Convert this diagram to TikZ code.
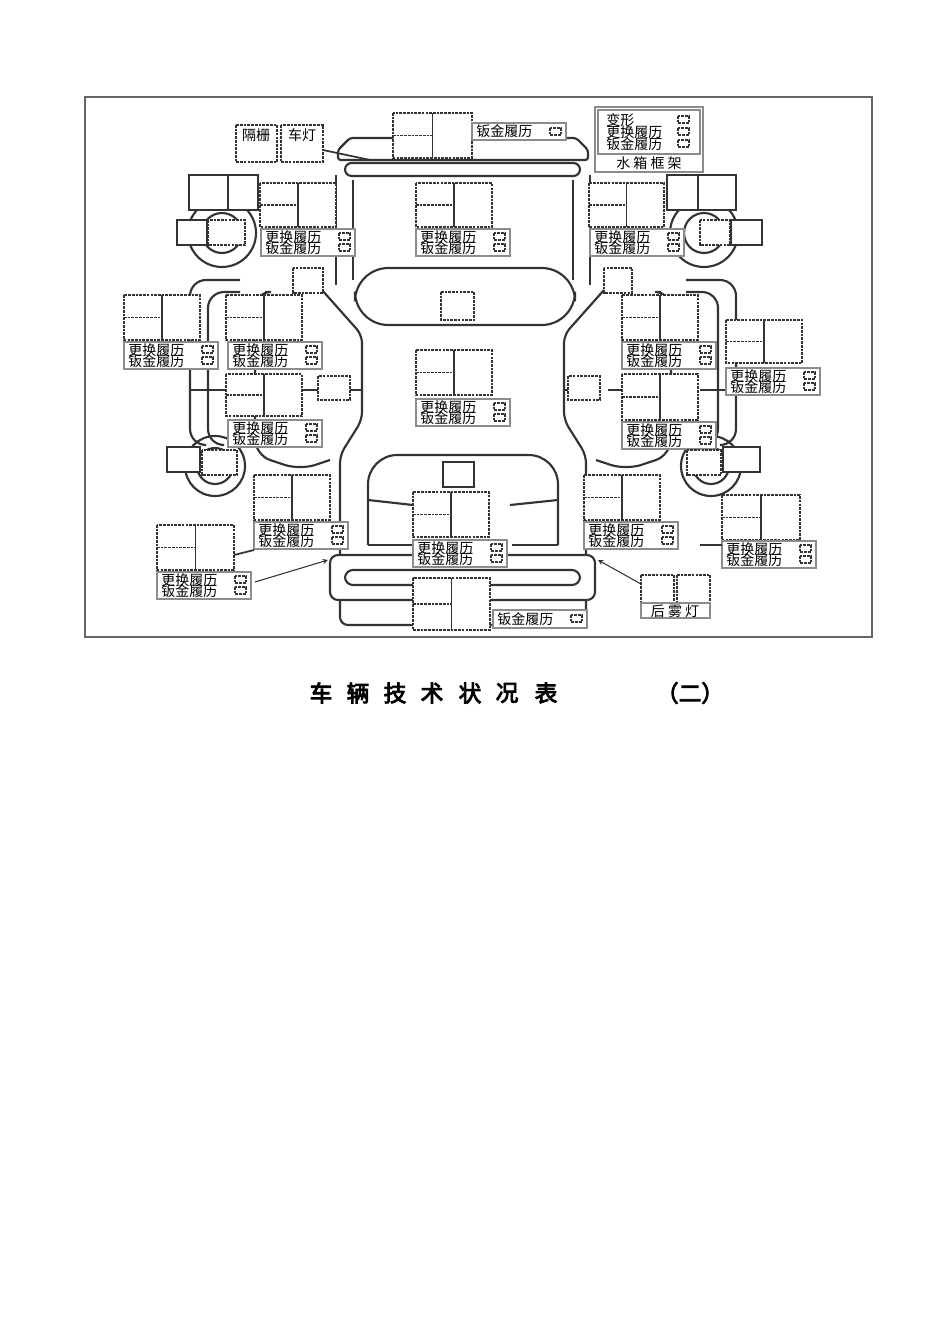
\documentclass[tikz,border=0pt]{standalone}
\usepackage{fontspec}
\newfontfamily\cjk{Noto Sans CJK SC}
\newfontfamily\cjkb[FakeBold=4]{Noto Sans CJK SC}
\tikzset{
 dbox/.style={line width=1.3pt,dash pattern=on 2pt off 0.8pt,black!80,fill=white},
 sol/.style={line width=1.3pt,black!80},
 dl/.style={line width=1.1pt,dash pattern=on 2pt off 0.8pt,black!80},
 lab/.style={line width=1.8pt,black!45,fill=white},
 txt/.style={font=\cjk\fontsize{10.5}{10.5}\selectfont,inner sep=0pt,anchor=west},
 car/.style={line width=1.6pt,black!80,rounded corners=6pt},
}
\newcommand\gbox[4]{%
 \draw[dbox] (#1,#2) rectangle (#3,#4);
 \draw[sol] ({(#1+#3)/2},#2)--({(#1+#3)/2},#4);
 \draw[dl] (#1,{(#2+#4)/2})--({(#1+#3)/2},{(#2+#4)/2});}
\newcommand\lbox[2]{%
 \draw[lab] (#1,#2) rectangle ++(94,27);
 \node[txt] at ({#1+4},{#2+8}) {更换履历};
 \node[txt] at ({#1+4},{#2+19.5}) {钣金履历};
 \draw[dl,line width=0.9pt] ({#1+78},{#2+4}) rectangle ++(11,7);
 \draw[dl,line width=0.9pt] ({#1+78},{#2+15}) rectangle ++(11,7);}
\newcommand\dsq[4]{\draw[dbox] (#1,#2) rectangle (#3,#4);}
\begin{document}
\begin{tikzpicture}[x=0.75pt,y=-0.75pt]
\useasboundingbox (0,0) rectangle (950,1344);
\draw[black!60,line width=0.8pt] (85,97) rectangle (872,637);
% car body
\draw[car,rounded corners=2pt] (338,160)--(338,150)--(350,138)--(576,138)--(588,150)--(588,160)--cycle;
\draw[car,rounded corners=5pt] (345,163) rectangle (580,176);
\draw[car] (353,180)--(353,280); \draw[car] (573,180)--(573,280);
\draw[car] (336,175)--(336,285); \draw[car] (590,175)--(590,285);
\draw[car,rounded corners=25pt] (355,325)--(355,268)--(575,268)--(575,325)--cycle;
\draw[car] (322,290)--(362,335)--(362,420)--(340,455)--(340,555);
\draw[car] (604,290)--(564,335)--(564,420)--(586,455)--(586,555);
\draw[car,rounded corners=22pt] (368,545)--(368,455)--(558,455)--(558,545);
\draw[car] (368,545)--(412,545); \draw[car] (512,545)--(558,545);
\draw[car] (330,555) rectangle (595,600);
\draw[car] (345,570) rectangle (580,585);
\draw[car] (340,600)--(340,625)--(413,625); \draw[car] (586,600)--(586,625)--(490,625);
\draw[car] (368,500)--(413,505); \draw[car] (558,500)--(510,505);
% side lines
\draw[car,rounded corners=12pt] (205,445)--(190,445)--(190,280)--(240,280);
\draw[car,rounded corners=12pt] (721,445)--(736,445)--(736,280)--(686,280);
\draw[car,rounded corners=12pt] (222,445)--(208,445)--(208,292)--(240,292);
\draw[car,rounded corners=12pt] (704,445)--(718,445)--(718,292)--(686,292);
\draw[car,rounded corners=12pt] (265,292)--(255,292)--(255,378) (255,415)--(255,455)--(300,470)--(330,460);
\draw[car,rounded corners=12pt] (661,292)--(671,292)--(671,378) (671,415)--(671,455)--(626,470)--(596,460);
\draw[car] (300,390)--(318,390); \draw[car] (350,390)--(362,390);
\draw[car] (626,390)--(608,390); \draw[car] (568,390)--(564,390);
\draw[car] (190,390)--(226,390); \draw[car] (736,390)--(700,390);
% wheels
\draw[car] (222,233) circle (34); \draw[car] (222,233) circle (20);
\draw[car] (704,233) circle (34); \draw[car] (704,233) circle (20);
\draw[car] (215,466) circle (30); \draw[car] (215,466) circle (18);
\draw[car] (711,466) circle (30); \draw[car] (711,466) circle (18);
% boxes
\gbox{393}{113}{472}{158}
\draw[lab] (472,123) rectangle (566,140); \node[txt] at (476,131.5){钣金履历}; \draw[dl,line width=0.9pt] (550,128) rectangle ++(11,7);
\draw[dbox] (236,125) rectangle (277,162); \node[txt,anchor=center] at (256,135){隔栅};
\draw[dbox] (281,125) rectangle (323,162); \node[txt,anchor=center] at (302,135){车灯};
\draw[sol] (323,150)--(370,160);
\draw[lab] (595,107) rectangle (703,172);
\draw[lab] (598,110) rectangle (700,154);
\node[txt] at (606,120){变形};\node[txt] at (606,132){更换履历};\node[txt] at (606,144){钣金履历};
\foreach \yy in {116,128,140}{\draw[dl,line width=0.9pt] (678,\yy) rectangle ++(11,7);}
\node[txt,anchor=center] at (649,163){水\ 箱\ 框\ 架};
\draw[sol,fill=white] (189,175) rectangle (258,210); \draw[sol] (228,175)--(228,210);
\draw[sol,fill=white] (667,175) rectangle (736,210); \draw[sol] (698,175)--(698,210);
\gbox{260}{183}{336}{227}\lbox{261}{229}
\gbox{416}{183}{492}{227}\lbox{416}{229}
\gbox{589}{183}{664}{227}\lbox{590}{229}
\draw[sol,fill=white] (177,220) rectangle (207,245); \dsq{208}{220}{245}{245}
\dsq{700}{220}{730}{245}\draw[sol,fill=white] (731,220) rectangle (762,245);
\dsq{293}{268}{323}{293}\dsq{604}{268}{632}{293}
\dsq{441}{292}{474}{320}
\gbox{124}{295}{200}{340}\lbox{124}{342}
\gbox{226}{295}{302}{340}\lbox{228}{342}
\gbox{622}{295}{698}{340}\lbox{622}{342}
\gbox{726}{320}{802}{363}\lbox{726}{368}
\gbox{416}{350}{492}{395}\lbox{416}{399}
\gbox{226}{374}{302}{416}\lbox{228}{420}
\gbox{622}{374}{698}{420}\lbox{622}{422}
\dsq{318}{376}{350}{400}\dsq{568}{376}{600}{400}
\draw[sol,fill=white] (167,447) rectangle (200,472); \dsq{202}{450}{237}{475}
\dsq{687}{450}{721}{475}\draw[sol,fill=white] (723,447) rectangle (760,472);
\draw[sol,fill=white] (443,462) rectangle (474,487);
\gbox{254}{475}{330}{520}\lbox{254}{522}
\gbox{157}{525}{234}{570}\lbox{157}{572}
\gbox{413}{492}{489}{537}\lbox{413}{540}
\gbox{584}{475}{660}{520}\lbox{584}{522}
\gbox{722}{495}{800}{540}\lbox{722}{541}
\draw[sol] (234,555)--(254,550); \draw[sol] (722,545)--(700,545);
\gbox{413}{578}{490}{630}
\draw[lab] (493,610) rectangle (587,628); \node[txt] at (497,619){钣金履历}; \draw[dl,line width=0.9pt] (571,615) rectangle ++(11,7);
\dsq{641}{575}{674}{603}\dsq{677}{575}{710}{603}
\draw[lab] (641,603) rectangle (710,618); \node[txt,anchor=center] at (675,611){后\ 雾\ 灯};
\draw[sol,line width=0.8pt,-stealth] (255,582)--(328,560);
\draw[sol,line width=0.8pt,-stealth] (641,584)--(598,560);
% title
\foreach \c/\xx in {车/321,辆/358,技/395,术/432,状/470,况/507,表/546}{\node[font=\cjkb\fontsize{17}{17}\selectfont] at (\xx,693){\c};}
\node[font=\cjkb\fontsize{17}{17}\selectfont] at (690,693){（二）};
\end{tikzpicture}
\end{document}
